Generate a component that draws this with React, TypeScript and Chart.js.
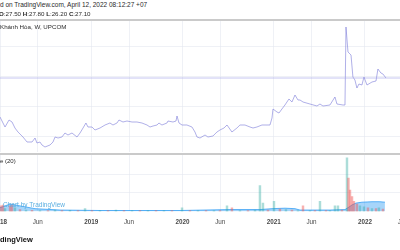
import React, { useEffect, useRef } from "react";
import { Chart, registerables } from "chart.js";
Chart.register(...registerables);

// ---- data ----
const priceTime = [2018.000, 2018.033, 2018.055, 2018.099, 2018.132, 2018.164, 2018.197, 2018.252, 2018.296, 2018.351, 2018.384, 2018.405, 2018.438, 2018.460, 2018.493, 2018.548, 2018.581, 2018.603, 2018.636, 2018.679, 2018.712, 2018.745, 2018.789, 2018.844, 2018.877, 2018.910, 2018.942, 2018.964, 2019.008, 2019.041, 2019.096, 2019.151, 2019.205, 2019.238, 2019.282, 2019.304, 2019.348, 2019.392, 2019.447, 2019.501, 2019.556, 2019.611, 2019.644, 2019.677, 2019.721, 2019.742, 2019.775, 2019.830, 2019.841, 2019.896, 2019.929, 2019.940, 2019.962, 2019.995, 2020.049, 2020.104, 2020.137, 2020.159, 2020.192, 2020.247, 2020.279, 2020.334, 2020.378, 2020.411, 2020.455, 2020.488, 2020.542, 2020.597, 2020.630, 2020.685, 2020.740, 2020.773, 2020.816, 2020.871, 2020.926, 2020.959, 2020.981, 2020.992, 2021.036, 2021.058, 2021.090, 2021.123, 2021.167, 2021.200, 2021.233, 2021.266, 2021.288, 2021.321, 2021.397, 2021.474, 2021.507, 2021.540, 2021.616, 2021.671, 2021.693, 2021.759, 2021.781, 2021.792, 2021.814, 2021.847, 2021.868, 2021.890, 2021.912, 2021.934, 2021.967, 2021.989, 2022.022, 2022.077, 2022.121, 2022.142, 2022.175, 2022.197, 2022.230];
const priceClose = [17.35, 15.85, 14.85, 16.6, 16.1, 14.6, 13.6, 12.35, 11.1, 11.1, 12.1, 10.85, 11.1, 10.35, 9.85, 10.35, 11.1, 12.35, 12.1, 12.35, 13.35, 12.85, 13.35, 12.35, 13.35, 14.6, 15.85, 14.85, 14.85, 14.1, 14.6, 15.35, 15.85, 15.35, 15.85, 16.6, 16.1, 16.35, 16.1, 16.1, 15.85, 15.35, 14.85, 15.1, 15.35, 15.85, 15.35, 15.85, 16.35, 16.1, 16.35, 17.6, 15.85, 15.35, 15.35, 14.85, 13.6, 12.35, 12.1, 12.85, 12.35, 12.6, 13.6, 14.1, 14.6, 15.35, 13.6, 14.6, 15.35, 15.35, 14.85, 14.6, 14.85, 15.35, 15.35, 15.35, 17.1, 19.35, 18.6, 18.35, 19.35, 20.35, 21.85, 21.1, 22.85, 21.6, 21.6, 21.1, 20.6, 20.1, 20.6, 20.1, 20.35, 22.35, 20.6, 20.35, 20.35, 39.85, 33.6, 32.85, 27.35, 26.6, 24.6, 25.6, 25.35, 27.35, 25.35, 26.1, 26.35, 29.35, 28.35, 28.1, 27.1];
const lastClose = 27.1;

const volTime = [2018.011, 2018.033, 2018.055, 2018.110, 2018.132, 2018.164, 2018.219, 2018.285, 2018.351, 2018.438, 2018.526, 2018.603, 2018.679, 2018.767, 2018.855, 2018.932, 2019.008, 2019.096, 2019.184, 2019.271, 2019.359, 2019.447, 2019.534, 2019.622, 2019.710, 2019.797, 2019.885, 2019.995, 2020.082, 2020.170, 2020.258, 2020.345, 2020.411, 2020.488, 2020.542, 2020.630, 2020.718, 2020.795, 2020.849, 2020.882, 2020.937, 2021.003, 2021.068, 2021.134, 2021.200, 2021.266, 2021.321, 2021.397, 2021.452, 2021.507, 2021.573, 2021.616, 2021.671, 2021.704, 2021.748, 2021.803, 2021.819, 2021.836, 2021.858, 2021.879, 2021.912, 2021.945, 2021.989, 2022.033, 2022.077, 2022.121, 2022.153, 2022.197];
const volValue = [60, 70, 30, 60, 70, 40, 20, 15, 12, 10, 10, 15, 10, 12, 10, 30, 10, 8, 8, 15, 8, 10, 8, 8, 10, 8, 8, 40, 10, 10, 8, 10, 8, 60, 40, 10, 10, 15, 280, 90, 15, 110, 25, 20, 15, 10, 60, 10, 10, 110, 10, 10, 60, 60, 15, 580, 360, 230, 160, 110, 80, 60, 50, 40, 30, 30, 40, 25];
const volDir = [-1, -1, 1, -1, -1, 1, -1, 1, -1, 1, -1, 1, -1, 1, -1, 1, -1, 1, -1, 1, -1, 1, -1, 1, -1, 1, -1, 1, -1, 1, -1, 1, -1, 1, -1, 1, -1, 1, 1, 1, -1, 1, -1, 1, -1, 1, -1, 1, -1, 1, -1, 1, 1, 1, -1, 1, -1, -1, -1, -1, -1, 1, 1, -1, 1, -1, 1, -1];

const maTime = [2018.000, 2018.110, 2018.219, 2018.384, 2018.658, 2019.096, 2019.973, 2020.521, 2020.849, 2020.981, 2021.123, 2021.233, 2021.288, 2021.616, 2021.781, 2021.814, 2021.858, 2021.901, 2021.967, 2022.077, 2022.164, 2022.219];
const maValue = [40, 80, 60, 30, 15, 10, 10, 20, 20, 30, 35, 30, 15, 15, 20, 40, 70, 90, 100, 105, 105, 100];

const xTicks = [2018.0, 2018.414, 2019.0, 2019.414, 2020.0, 2020.414, 2021.0, 2021.414, 2022.0, 2022.414];
const xTickLabels = ["2018", "Jun", "2019", "Jun", "2020", "Jun", "2021", "Jun", "2022", "Jun"];
const priceGrid = [12.5, 20, 27.5, 35];
const volGrid = [200, 400];

const X_MIN = 2018.0;
const X_MAX = 2022.384;
const P_MIN = 8.6;
const P_MAX = 41.35;
const V_MAX = 610;

const FONT = "'Liberation Sans', Arial, sans-serif";
const GRID = "rgba(225,229,238,0.55)";

const labelFor = (v: number) => {
  const i = xTicks.indexOf(v);
  return i >= 0 ? xTickLabels[i] : "";
};

export default function App() {
  const priceRef = useRef<HTMLCanvasElement>(null);
  const volRef = useRef<HTMLCanvasElement>(null);

  useEffect(() => {
    const pc = new Chart(priceRef.current as HTMLCanvasElement, {
      type: "line",
      data: {
        datasets: [
          {
            data: [
              { x: X_MIN, y: lastClose },
              { x: X_MAX, y: lastClose },
            ],
            borderColor: "rgba(160,160,232,0.6)",
            borderWidth: 1,
            pointRadius: 0,
          },
          {
            data: priceTime.map((t, i) => ({ x: t, y: priceClose[i] })),
            borderColor: "rgba(128,128,218,0.62)",
            borderWidth: 1,
            pointRadius: 0,
            tension: 0,
          },
        ],
      },
      options: {
        animation: false,
        responsive: false,
        events: [],
        layout: { padding: 0 },
        plugins: { legend: { display: false }, tooltip: { enabled: false } },
        scales: {
          x: {
            type: "linear",
            min: X_MIN,
            max: X_MAX,
            afterBuildTicks: (s: any) => {
              s.ticks = xTicks.map((v) => ({ value: v }));
            },
            ticks: { display: false, autoSkip: false },
            grid: { color: GRID, drawTicks: false },
            border: { display: false },
          },
          y: {
            min: P_MIN,
            max: P_MAX,
            afterBuildTicks: (s: any) => {
              s.ticks = priceGrid.map((v) => ({ value: v }));
            },
            ticks: { display: false },
            grid: { color: GRID, drawTicks: false },
            border: { display: false },
          },
        },
      },
    } as any);

    const vc = new Chart(volRef.current as HTMLCanvasElement, {
      type: "bar",
      data: {
        datasets: [
          {
            type: "bar",
            data: volTime.map((t, i) => ({ x: t, y: volValue[i] })),
            backgroundColor: volDir.map((d) => (d > 0 ? "rgba(38,166,154,0.38)" : "rgba(239,83,80,0.45)")),
            barThickness: 1.8,
            order: 1,
          },
          {
            type: "line",
            data: maTime.map((t, i) => ({ x: t, y: maValue[i] })),
            borderColor: "rgba(33,150,243,0.7)",
            backgroundColor: "rgba(33,150,243,0.4)",
            borderWidth: 1,
            pointRadius: 0,
            tension: 0,
            fill: "origin",
            order: 2,
          },
        ],
      },
      options: {
        animation: false,
        responsive: false,
        events: [],
        layout: { padding: 0 },
        plugins: { legend: { display: false }, tooltip: { enabled: false } },
        scales: {
          x: {
            type: "linear",
            min: X_MIN,
            max: X_MAX,
            offset: false,
            afterBuildTicks: (s: any) => {
              s.ticks = xTicks.map((v) => ({ value: v }));
            },
            afterFit: (s: any) => {
              s.paddingLeft = 0;
              s.paddingRight = 0;
            },
            ticks: {
              autoSkip: false,
              maxRotation: 0,
              minRotation: 0,
              padding: 7,
              color: "#4a4a4a",
              callback: (v: any) => labelFor(Number(v)),
              font: (ctx: any) => {
                const lab = ctx.tick ? labelFor(ctx.tick.value) : "";
                return { family: FONT, size: 6.3, weight: /^\d{4}$/.test(lab) ? "bold" : "normal" };
              },
            },
            grid: { color: GRID, drawTicks: false, offset: false },
            border: { display: false },
          },
          y: {
            min: 0,
            max: V_MAX,
            afterBuildTicks: (s: any) => {
              s.ticks = volGrid.map((v) => ({ value: v }));
            },
            ticks: { display: false },
            grid: { color: GRID, drawTicks: false },
            border: { display: false },
          },
        },
      },
    } as any);

    return () => {
      pc.destroy();
      vc.destroy();
    };
  }, []);

  const txt = (top: number, left: number, size: number, extra: any = {}) => ({
    position: "absolute" as const,
    top,
    left,
    fontSize: size,
    lineHeight: 1,
    whiteSpace: "nowrap" as const,
    color: "#2a2a2a",
    fontFamily: FONT,
    ...extra,
  });

  return (
    <div style={{ position: "absolute", left: 0, top: 0, width: 400, height: 250, background: "#fff", overflow: "hidden" }}>
      <canvas ref={priceRef} width={400} height={131} style={{ position: "absolute", left: 0, top: 21 }} />
      <canvas ref={volRef} width={400} height={78} style={{ position: "absolute", left: 0, top: 155 }} />
      <div style={{ position: "absolute", left: 0, top: 19, width: 400, height: 2, background: "#cacaca" }} />
      <div style={{ position: "absolute", left: 0, top: 153, width: 400, height: 2, background: "#cacaca" }} />
      <div style={txt(2, 0, 6.5)}>d on TradingView.com, April 12, 2022 08:12:27 +07</div>
      <div style={txt(10.5, -1, 6.2)}>
        <b>O</b>:27.50 <b>H</b>:27.80 <b>L</b>:26.20 <b>C</b>:27.10
      </div>
      <div style={txt(23.5, 0, 6.2)}>Khánh Hòa, W, UPCOM</div>
      <div style={txt(157.5, 0, 6)}>e (20)</div>
      <div style={txt(202, 3, 6.5, { color: "#5aaee0" })}>Chart by TradingView</div>
      <div style={txt(236, 0, 7.5, { fontWeight: "bold", color: "#111" })}>dingView</div>
    </div>
  );
}
